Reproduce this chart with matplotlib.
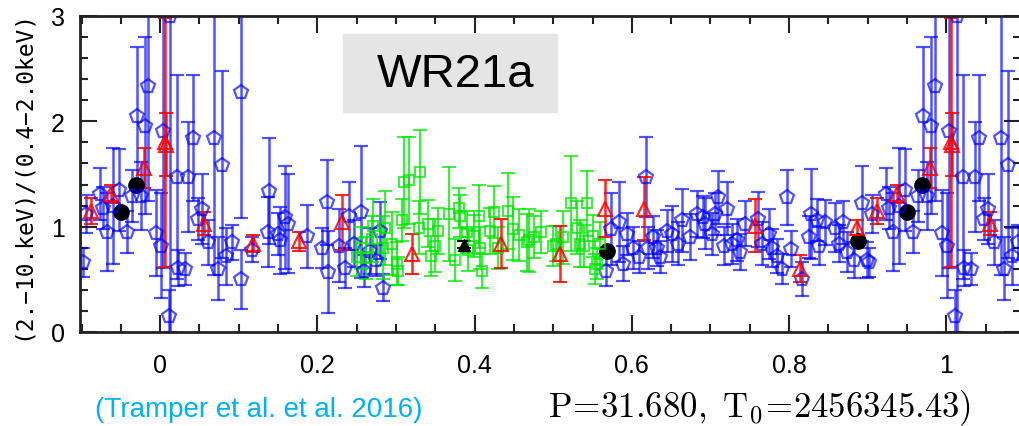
import matplotlib
matplotlib.use("Agg")
import matplotlib.pyplot as plt
from matplotlib.ticker import MultipleLocator
import numpy as np

# phase-folded hardness ratio, one cycle of data; drawn again at phase+1
blue_phase = [-0.098, -0.095, -0.077, -0.073, -0.068, -0.060, -0.052, -0.042, -0.036, -0.030,
              -0.024, -0.019, -0.015, -0.005, 0.001, 0.004, 0.011, 0.013, 0.021, 0.023,
              0.031, 0.036, 0.042, 0.048, 0.053, 0.061, 0.069, 0.074, 0.079, 0.084,
              0.091, 0.103, 0.103, 0.117, 0.137, 0.139, 0.150, 0.153, 0.159, 0.163,
              0.187, 0.206, 0.212, 0.214, 0.227, 0.235, 0.240, 0.247, 0.256, 0.259,
              0.267, 0.274, 0.280, 0.283,
              0.567, 0.573, 0.583, 0.589, 0.594, 0.602, 0.609, 0.618, 0.621, 0.627,
              0.632, 0.636, 0.645, 0.651, 0.659, 0.664, 0.674, 0.683, 0.691, 0.693,
              0.702, 0.706, 0.710, 0.717, 0.721, 0.727, 0.734, 0.738, 0.744, 0.761,
              0.766, 0.774, 0.778, 0.785, 0.791, 0.797, 0.802, 0.817, 0.825, 0.828,
              0.835, 0.838, 0.846, 0.859, 0.863, 0.869, 0.874, 0.882, 0.893, 0.899]
blue_ratio = [0.66, 1.12, 1.31, 1.18, 0.95, 1.20, 1.35, 0.95, 1.29, 2.05,
              1.29, 1.96, 2.34, 0.94, 0.82, 1.91, 0.15, 3.00, 1.47, 0.61,
              0.60, 1.47, 1.84, 1.07, 1.17, 0.85, 1.84, 0.60, 1.59, 0.72,
              0.85, 2.28, 0.50, 0.78, 0.95, 1.34, 0.93, 0.87, 1.09, 1.03,
              0.91, 0.80, 1.23, 0.57, 0.82, 0.61, 1.10, 0.84, 1.14, 0.58,
              0.77, 0.68, 0.96, 0.42,
              0.58, 0.98, 1.04, 0.65, 0.93, 0.80, 0.71, 1.47, 0.80, 0.90,
              0.80, 0.71, 0.96, 0.93, 0.84, 1.06, 0.90, 1.12, 1.09, 1.03,
              0.93, 1.12, 1.28, 0.82, 1.17, 0.84, 0.87, 0.76, 1.03, 1.07,
              0.84, 0.93, 0.80, 0.72, 0.60, 1.28, 0.79, 0.50, 0.90, 1.12,
              1.06, 0.82, 1.04, 0.99, 0.84, 1.04, 0.76, 0.68, 1.22, 0.68]
blue_err = [0.14, 0.18, 0.25, 0.20, 0.37, 0.55, 0.39, 0.20, 0.25, 0.66,
            0.32, 0.84, 1.10, 0.41, 0.50, 1.30, 0.25, 3.00, 0.97, 0.17,
            0.15, 0.52, 0.60, 0.20, 0.33, 0.21, 1.30, 0.30, 0.89, 0.27,
            0.17, 1.20, 0.28, 0.12, 0.33, 0.50, 0.20, 0.32, 0.49, 0.47,
            0.30, 0.19, 0.40, 0.39, 0.35, 0.19, 0.32, 0.22, 0.63, 0.15,
            0.22, 0.15, 0.27, 0.13,
            0.14, 0.34, 0.38, 0.17, 0.20, 0.20, 0.15, 0.38, 0.20, 0.20,
            0.17, 0.15, 0.20, 0.27, 0.20, 0.30, 0.22, 0.22, 0.20, 0.24,
            0.20, 0.20, 0.25, 0.18, 0.25, 0.19, 0.20, 0.17, 0.21, 0.26,
            0.20, 0.24, 0.18, 0.16, 0.14, 0.26, 0.17, 0.16, 0.20, 0.43,
            0.20, 0.18, 0.21, 0.23, 0.18, 0.20, 0.19, 0.17, 0.36, 0.17]

green_phase = [0.250, 0.255, 0.262, 0.270, 0.271, 0.284, 0.286, 0.295, 0.301, 0.303,
               0.308, 0.310, 0.316, 0.329, 0.330, 0.341, 0.344, 0.350, 0.354, 0.367,
               0.375, 0.380, 0.382, 0.390, 0.392, 0.399, 0.405, 0.407, 0.409, 0.420,
               0.424, 0.430, 0.443, 0.449, 0.457, 0.466, 0.469, 0.475, 0.485, 0.500,
               0.503, 0.512, 0.522, 0.530, 0.534, 0.539, 0.543, 0.551, 0.553, 0.556,
               0.560]
green_ratio = [0.71, 0.80, 0.70, 0.88, 1.01, 0.80, 0.99, 0.84, 0.65, 0.58,
               1.06, 1.42, 1.44, 0.99, 1.52, 1.03, 0.72, 0.82, 0.96, 1.12,
               0.68, 1.18, 1.10, 0.95, 0.78, 0.91, 1.10, 0.80, 0.58, 0.96,
               1.14, 0.80, 1.15, 0.98, 0.92, 0.85, 0.87, 0.90, 0.95, 0.82,
               0.84, 0.90, 1.22, 0.99, 0.84, 0.82, 1.22, 0.91, 0.60, 0.65,
               0.84]
green_err = [0.18, 0.20, 0.20, 0.22, 0.25, 0.30, 0.35, 0.30, 0.20, 0.13,
             0.20, 0.43, 0.41, 0.25, 0.40, 0.22, 0.19, 0.25, 0.22, 0.45,
             0.20, 0.19, 0.20, 0.20, 0.20, 0.20, 0.30, 0.20, 0.16, 0.22,
             0.25, 0.20, 0.36, 0.30, 0.25, 0.27, 0.30, 0.20, 0.20, 0.19,
             0.17, 0.25, 0.45, 0.25, 0.22, 0.20, 0.31, 0.20, 0.14, 0.15,
             0.20]

red_phase = [-0.088, -0.063, -0.021, 0.006, 0.007, 0.056, 0.118, 0.177, 0.231, 0.320,
             0.433, 0.508, 0.566, 0.615, 0.757, 0.814, 0.886]
red_ratio = [1.15, 1.31, 1.56, 1.80, 1.78, 1.03, 0.84, 0.86, 1.04, 0.74,
             0.84, 0.74, 1.17, 1.17, 1.01, 0.60, 0.99]
red_err = [0.12, 0.09, 0.19, 1.18, 0.30, 0.11, 0.08, 0.09, 0.26, 0.19,
           0.23, 0.27, 0.27, 0.30, 0.25, 0.13, 0.07]

black_phase = [-0.050, -0.031, 0.568, 0.888]
black_ratio = [1.14, 1.40, 0.77, 0.86]

tri_phase = [0.386]
tri_ratio = [0.83]
tri_err = [0.03]

x_ticks = [0, 0.2, 0.4, 0.6, 0.8, 1.0]
x_labels = ["0", "0.2", "0.4", "0.6", "0.8", "1"]
y_ticks = [0, 1, 2, 3]
y_labels = ["0", "1", "2", "3"]

W, H = 1019, 427
plt.rcParams["mathtext.fontset"] = "cm"
fig = plt.figure(figsize=(W / 100, H / 100), dpi=100)
ax = fig.add_axes([80 / W, 1 - 333 / H, (1021 - 80) / W, (333 - 17) / H])

def draw(ph, val, err, **kw):
    ph = np.asarray(ph)
    for shift in (0, 1):
        ax.errorbar(ph + shift, val, yerr=err, linestyle="none", **kw)

draw(blue_phase, blue_ratio, blue_err, color="#0000ff", marker="p", ms=10.5,
     mfc="none", mew=1.6, elinewidth=1.8, capsize=5, capthick=1.8, alpha=0.68)
draw(green_phase, green_ratio, green_err, color="#00e600", marker="s", ms=7.5,
     mfc="none", mew=1.4, elinewidth=1.6, capsize=5, capthick=1.6, alpha=0.75)
draw(red_phase, red_ratio, red_err, color="#ff0000", marker="^", ms=9.5,
     mfc="none", mew=1.5, elinewidth=1.8, capsize=5, capthick=1.8, alpha=0.85)
draw(tri_phase, tri_ratio, tri_err, color="black", marker="^", ms=8,
     elinewidth=1.5, capsize=5, capthick=1.5)
for shift in (0, 1):
    ax.plot(np.asarray(black_phase) + shift, black_ratio, "o", color="black", ms=11)

ax.set_xlim(-0.102, 1.095)
ax.set_ylim(0, 3)
ax.set_xticks(x_ticks)
ax.set_xticklabels(x_labels)
ax.set_yticks(y_ticks)
ax.set_yticklabels(y_labels)
ax.xaxis.set_minor_locator(MultipleLocator(0.05))
ax.yaxis.set_minor_locator(MultipleLocator(0.2))
ax.tick_params(which="both", direction="in", top=True, right=True, width=1.5, color="#222222")
ax.tick_params(which="major", length=12)
ax.tick_params(which="minor", length=6)
ax.tick_params(axis="x", which="major", pad=15, labelsize=18)
ax.tick_params(axis="y", which="major", pad=11, labelsize=18)
for lab in ax.get_xticklabels() + ax.get_yticklabels():
    lab.set_family(["Liberation Sans Narrow", "Liberation Sans"])
for sp in ax.spines.values():
    sp.set_linewidth(2)
    sp.set_color("#222222")

fig.text(22 / W, 1 - 175 / H, "(2.\u221210.keV)/(0.4\u22122.0keV)", rotation=90,
         ha="center", va="center", fontsize=16.5, family="DejaVu Sans Mono")

# star name label in a grey box
fig.patches.append(plt.Rectangle((343 / W, 1 - 113 / H), 214 / W, 78 / H,
                                 transform=fig.transFigure, color="#e5e5e5", zorder=5))
fig.text(456 / W, 1 - 75 / H, "WR21a", ha="center", va="center", fontsize=34,
         family="Liberation Sans", zorder=6)

fig.text(95 / W, 1 - 410 / H, "(Tramper et al. et al. 2016)", ha="left", va="center",
         fontsize=20, color="#00b0f0", family=["Liberation Sans Narrow", "Liberation Sans"])
fig.text(548 / W, 1 - 408 / H, r"$\mathrm{P\!=\!31.680,\ T_0\!=\!2456345.43)}$",
         ha="left", va="center", fontsize=25)

fig.savefig("out.png", dpi=100)
